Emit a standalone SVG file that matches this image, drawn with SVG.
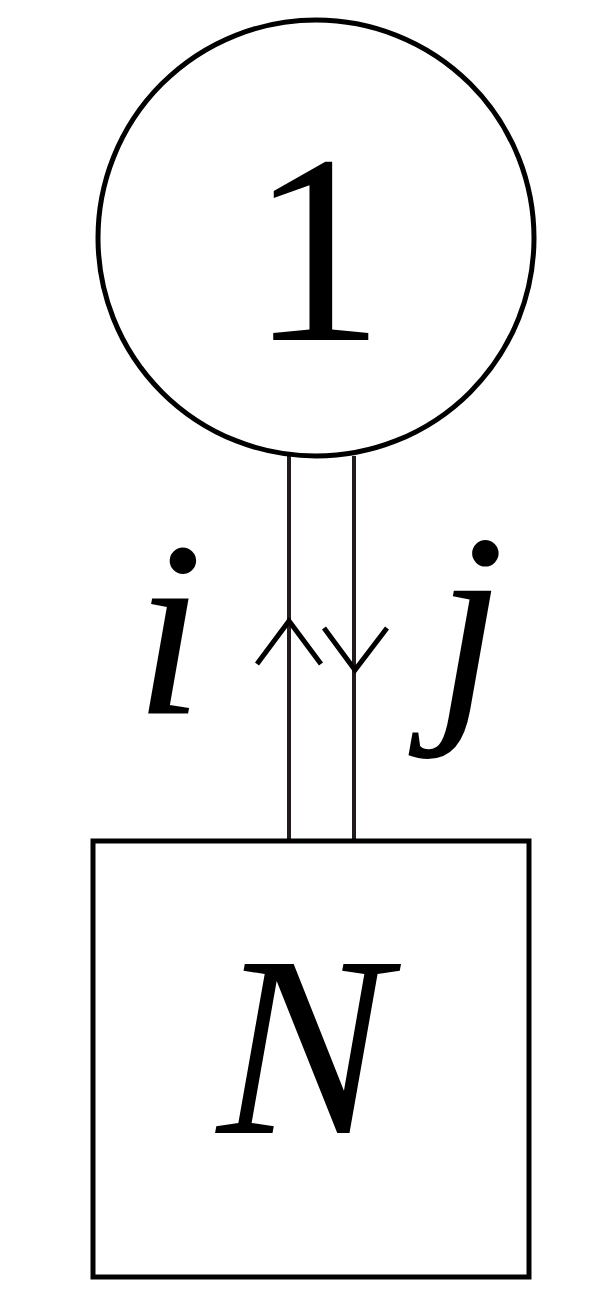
<svg xmlns="http://www.w3.org/2000/svg" width="614" height="1312" viewBox="0 0 614 1312">
<style>
.shape{fill:#ffffff;stroke:#000000;stroke-width:5}
.edge{fill:none;stroke:#231a20;stroke-width:4}
.chev{fill:none;stroke:#000000;stroke-width:5}
.lbl{font-family:"Liberation Serif","DejaVu Serif",serif;fill:#000000;text-anchor:middle}
.it{font-style:italic}
</style>
<rect width="614" height="1312" fill="#ffffff"/>
<g id="connectors">
<line class="edge" x1="289" y1="456" x2="289" y2="840"/>
<line class="edge" x1="354" y1="456" x2="354" y2="840"/>
<polyline class="chev" points="257,664 289,621 321,664"/>
<polyline class="chev" points="324,628 355,670 387,628"/>
<text class="lbl it" x="169" y="713" font-size="250">i</text>
<text class="lbl it" x="470" y="706" font-size="250">j</text>
</g>
<g id="node-1">
<circle class="shape" cx="316" cy="238" r="218"/>
<text class="lbl" x="317" y="340" font-size="270">1</text>
</g>
<g id="node-N">
<rect class="shape" x="93" y="841" width="436" height="436"/>
<text class="lbl it" x="303" y="1133" font-size="258">N</text>
</g>
</svg>
